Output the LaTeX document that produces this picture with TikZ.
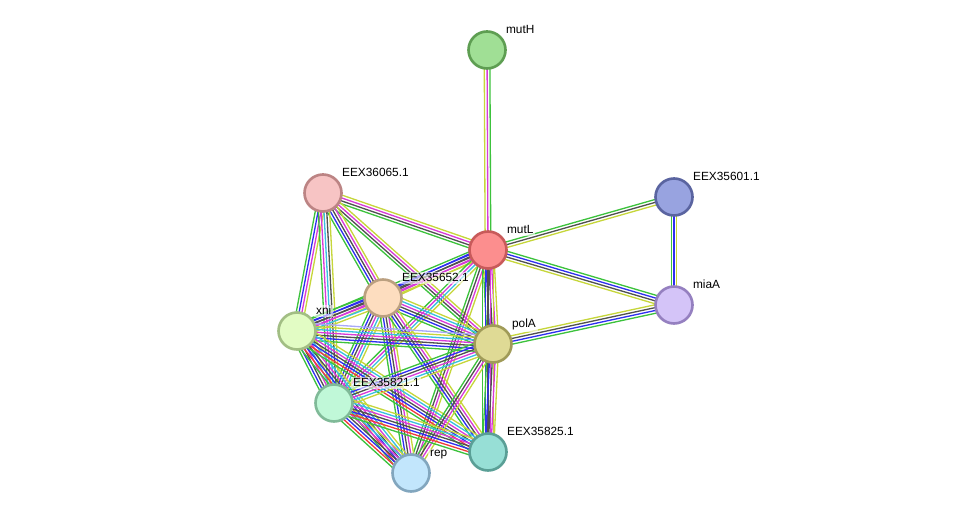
\documentclass[tikz,border=0pt]{standalone}
\usepackage{fontspec}
\setmainfont{Liberation Sans}
\usetikzlibrary{calc}

\definecolor{nbc}{HTML}{3CC23C}
\definecolor{fuc}{HTML}{F03A3A}
\definecolor{ccc}{HTML}{2E2EF0}
\definecolor{coc}{HTML}{505050}
\definecolor{exc}{HTML}{D83AD8}
\definecolor{dbc}{HTML}{38C0E0}
\definecolor{tmc}{HTML}{C6D63A}
\definecolor{hoc}{HTML}{A8A8F8}

% node fill / rim pairs
\definecolor{mutHf}{HTML}{A0DF95}\definecolor{mutHd}{HTML}{5E9E52}
\definecolor{e065f}{HTML}{F7C4C4}\definecolor{e065d}{HTML}{BC8484}
\definecolor{e601f}{HTML}{98A3E0}\definecolor{e601d}{HTML}{5A64A0}
\definecolor{mutLf}{HTML}{FC8E8E}\definecolor{mutLd}{HTML}{C85A5A}
\definecolor{e652f}{HTML}{FDDDBF}\definecolor{e652d}{HTML}{BBA080}
\definecolor{miaAf}{HTML}{D4C4F8}\definecolor{miaAd}{HTML}{9580C0}
\definecolor{xnif}{HTML}{E2FCC4}\definecolor{xnid}{HTML}{A2BE84}
\definecolor{polAf}{HTML}{DFDA95}\definecolor{polAd}{HTML}{A09B58}
\definecolor{e821f}{HTML}{C0F8D8}\definecolor{e821d}{HTML}{80BA98}
\definecolor{e825f}{HTML}{97DFD6}\definecolor{e825d}{HTML}{5A9F96}
\definecolor{repf}{HTML}{C2E6FC}\definecolor{repd}{HTML}{82A6BE}

\pgfdeclarelayer{background}
\pgfsetlayers{background,main}

\tikzset{
  protein/.style={circle, minimum size=0.74cm, inner sep=0pt, line width=1.5pt, fill=#1f, draw=#1d},
  lbl/.style={anchor=base west, inner sep=1pt, fill=white, fill opacity=0.6, text opacity=1,
    font=\fontsize{6.75}{8}\selectfont},
  strand/.style={line width=0.75pt}
}

% one line per evidence channel, spread side by side
\newcommand\bundle[3]{%
  \foreach \c [count=\n] in {#3} {\xdef\nlines{\n}}%
  \foreach \c [count=\i] in {#3} {%
    \pgfmathsetmacro\off{(\i-(\nlines+1)/2)*1.6}%
    \draw[strand, color=\c] ($(#1.center)!\off pt!90:(#2.center)$) -- ($(#2.center)!\off pt!-90:(#1.center)$);
  }}

\begin{document}
\begin{tikzpicture}[x=0.02cm, y=-0.02cm]
\useasboundingbox (0,0) rectangle (976,519);

\node[protein=mutH] (mutH) at (487,50) {};
\node[protein=e065] (e065) at (323,193) {};
\node[protein=e601] (e601) at (674,197) {};
\node[protein=mutL] (mutL) at (488,250) {};
\node[protein=e652] (e652) at (383,298) {};
\node[protein=miaA] (miaA) at (674,305) {};
\node[protein=xni] (xni) at (297,331) {};
\node[protein=polA] (polA) at (493,344) {};
\node[protein=e821] (e821) at (334,403) {};
\node[protein=e825] (e825) at (488,452) {};
\node[protein=rep] (rep) at (411,473) {};

\foreach \p/\t in {mutH/mutH, e065/EEX36065.1, e601/EEX35601.1, mutL/mutL, e652/EEX35652.1,
                   miaA/miaA, xni/xni, polA/polA, e821/EEX35821.1, e825/EEX35825.1, rep/rep}
  \node[lbl] (\p-l) at ([shift={(17,-16)}]\p.center) {\t};

\begin{pgfonlayer}{background}
\bundle{mutH}{mutL}{tmc,exc,nbc}
\bundle{e601}{mutL}{nbc,coc,tmc}
\bundle{e601}{miaA}{nbc,ccc,tmc}
\bundle{mutL}{miaA}{tmc,coc,ccc,nbc}
\bundle{polA}{miaA}{nbc,ccc,coc,tmc}
\bundle{e065}{mutL}{nbc,coc,exc,tmc}
\bundle{e065}{polA}{nbc,coc,exc,tmc}
\bundle{e065}{e652}{nbc,ccc,coc,exc,tmc}
\bundle{e065}{xni}{nbc,ccc,exc,tmc}
\bundle{e065}{e821}{nbc,exc,dbc,coc,tmc}
\bundle{mutL}{e652}{ccc,coc,exc,tmc}
\bundle{mutL}{xni}{nbc,ccc,coc,exc,tmc}
\bundle{mutL}{polA}{nbc,ccc,coc,exc,tmc}
\bundle{mutL}{e821}{nbc,exc,dbc,tmc}
\bundle{mutL}{rep}{nbc,coc,exc,tmc}
\bundle{mutL}{e825}{nbc,ccc,coc,exc,tmc}
\bundle{e652}{xni}{nbc,ccc,coc,exc,dbc,tmc}
\bundle{e652}{polA}{nbc,ccc,coc,exc,dbc,tmc}
\bundle{e652}{e821}{nbc,ccc,coc,exc,dbc,tmc}
\bundle{e652}{rep}{nbc,ccc,coc,exc,tmc}
\bundle{e652}{e825}{nbc,ccc,coc,exc,tmc}
\bundle{xni}{polA}{nbc,ccc,coc,exc,dbc,tmc,hoc}
\bundle{xni}{e821}{nbc,ccc,coc,exc,dbc,tmc}
\bundle{xni}{rep}{nbc,fuc,ccc,coc,exc,dbc,tmc}
\bundle{xni}{e825}{nbc,fuc,ccc,coc,exc,dbc,tmc}
\bundle{polA}{e821}{nbc,ccc,coc,exc,dbc,tmc}
\bundle{polA}{rep}{nbc,coc,exc,tmc}
\bundle{polA}{e825}{nbc,ccc,coc,exc,tmc}
\bundle{e821}{rep}{nbc,fuc,ccc,coc,exc,dbc,tmc}
\bundle{e821}{e825}{nbc,fuc,ccc,coc,exc,dbc,tmc}
\end{pgfonlayer}
\end{tikzpicture}
\end{document}
